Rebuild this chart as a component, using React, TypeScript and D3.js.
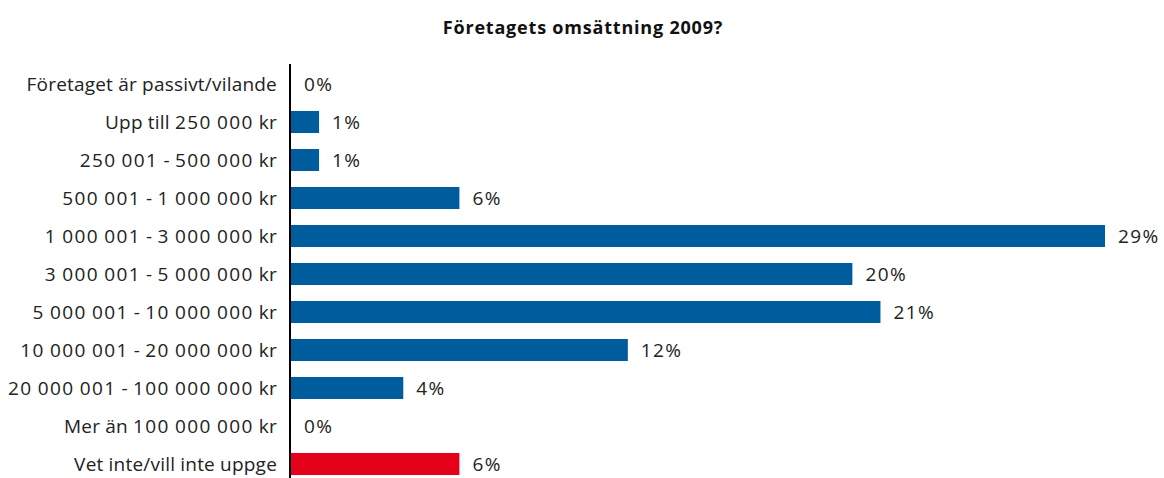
import React from "react";
import * as d3 from "d3";

const categories = [
  "Företaget är passivt/vilande",
  "Upp till 250 000 kr",
  "250 001 - 500 000 kr",
  "500 001 - 1 000 000 kr",
  "1 000 001 - 3 000 000 kr",
  "3 000 001 - 5 000 000 kr",
  "5 000 001 - 10 000 000 kr",
  "10 000 001 - 20 000 000 kr",
  "20 000 001 - 100 000 000 kr",
  "Mer än 100 000 000 kr",
  "Vet inte/vill inte uppge",
];
const values = [0, 1, 1, 6, 29, 20, 21, 12, 4, 0, 6];
const highlight = [false, false, false, false, false, false, false, false, false, false, true];
const title = "Företagets omsättning 2009?";

const W = 1164;
const H = 478;
const FONT = "'Open Sans', 'Noto Sans', sans-serif";

// split text into runs so digits can be spaced a little wider (font metrics)
function runs(s: string) {
  const parts = s.match(/\d+|[^\d]+/g) || [];
  return parts.map((p, k) => (
    <tspan key={k} letterSpacing={/\d/.test(p) ? 1.4 : 0.2}>
      {p}
    </tspan>
  ));
}

export default function App() {
  const x = d3.scaleLinear().domain([0, 29]).range([291, 1105]);
  const y = d3
    .scaleBand<string>()
    .domain(categories)
    .range([65, 483])
    .paddingInner(0.42)
    .paddingOuter(0.21);
  const bw = y.bandwidth();
  return (
    <svg
      width={W}
      height={H}
      style={{ position: "absolute", left: 0, top: 0, background: "#fff" }}
    >
      <text
        x={583}
        y={27}
        textAnchor="middle"
        dominantBaseline="central"
        fontFamily={FONT}
        fontWeight="bold"
        fontSize={18}
        letterSpacing={0.8}
        fill="#111"
      >
        {title}
      </text>
      {categories.map((c, i) => {
        const yc = (y(c) as number) + bw / 2;
        return (
          <g key={c}>
            <text
              x={277}
              y={yc}
              textAnchor="end"
              dominantBaseline="central"
              fontFamily={FONT}
              fontSize={19}
              fill="#222"
            >
              {runs(c)}
            </text>
            {values[i] > 0 && (
              <rect
                x={x(0)}
                y={y(c)}
                width={x(values[i]) - x(0)}
                height={bw}
                fill={highlight[i] ? "#e2001a" : "#005c9c"}
              />
            )}
            <text
              x={x(values[i]) + 13}
              y={yc}
              dominantBaseline="central"
              fontFamily={FONT}
              fontSize={19}
              fill="#222"
            >
              {runs(values[i] + "%")}
            </text>
          </g>
        );
      })}
      <line x1={290} x2={290} y1={64} y2={478} stroke="#000" strokeWidth={2} />
    </svg>
  );
}
